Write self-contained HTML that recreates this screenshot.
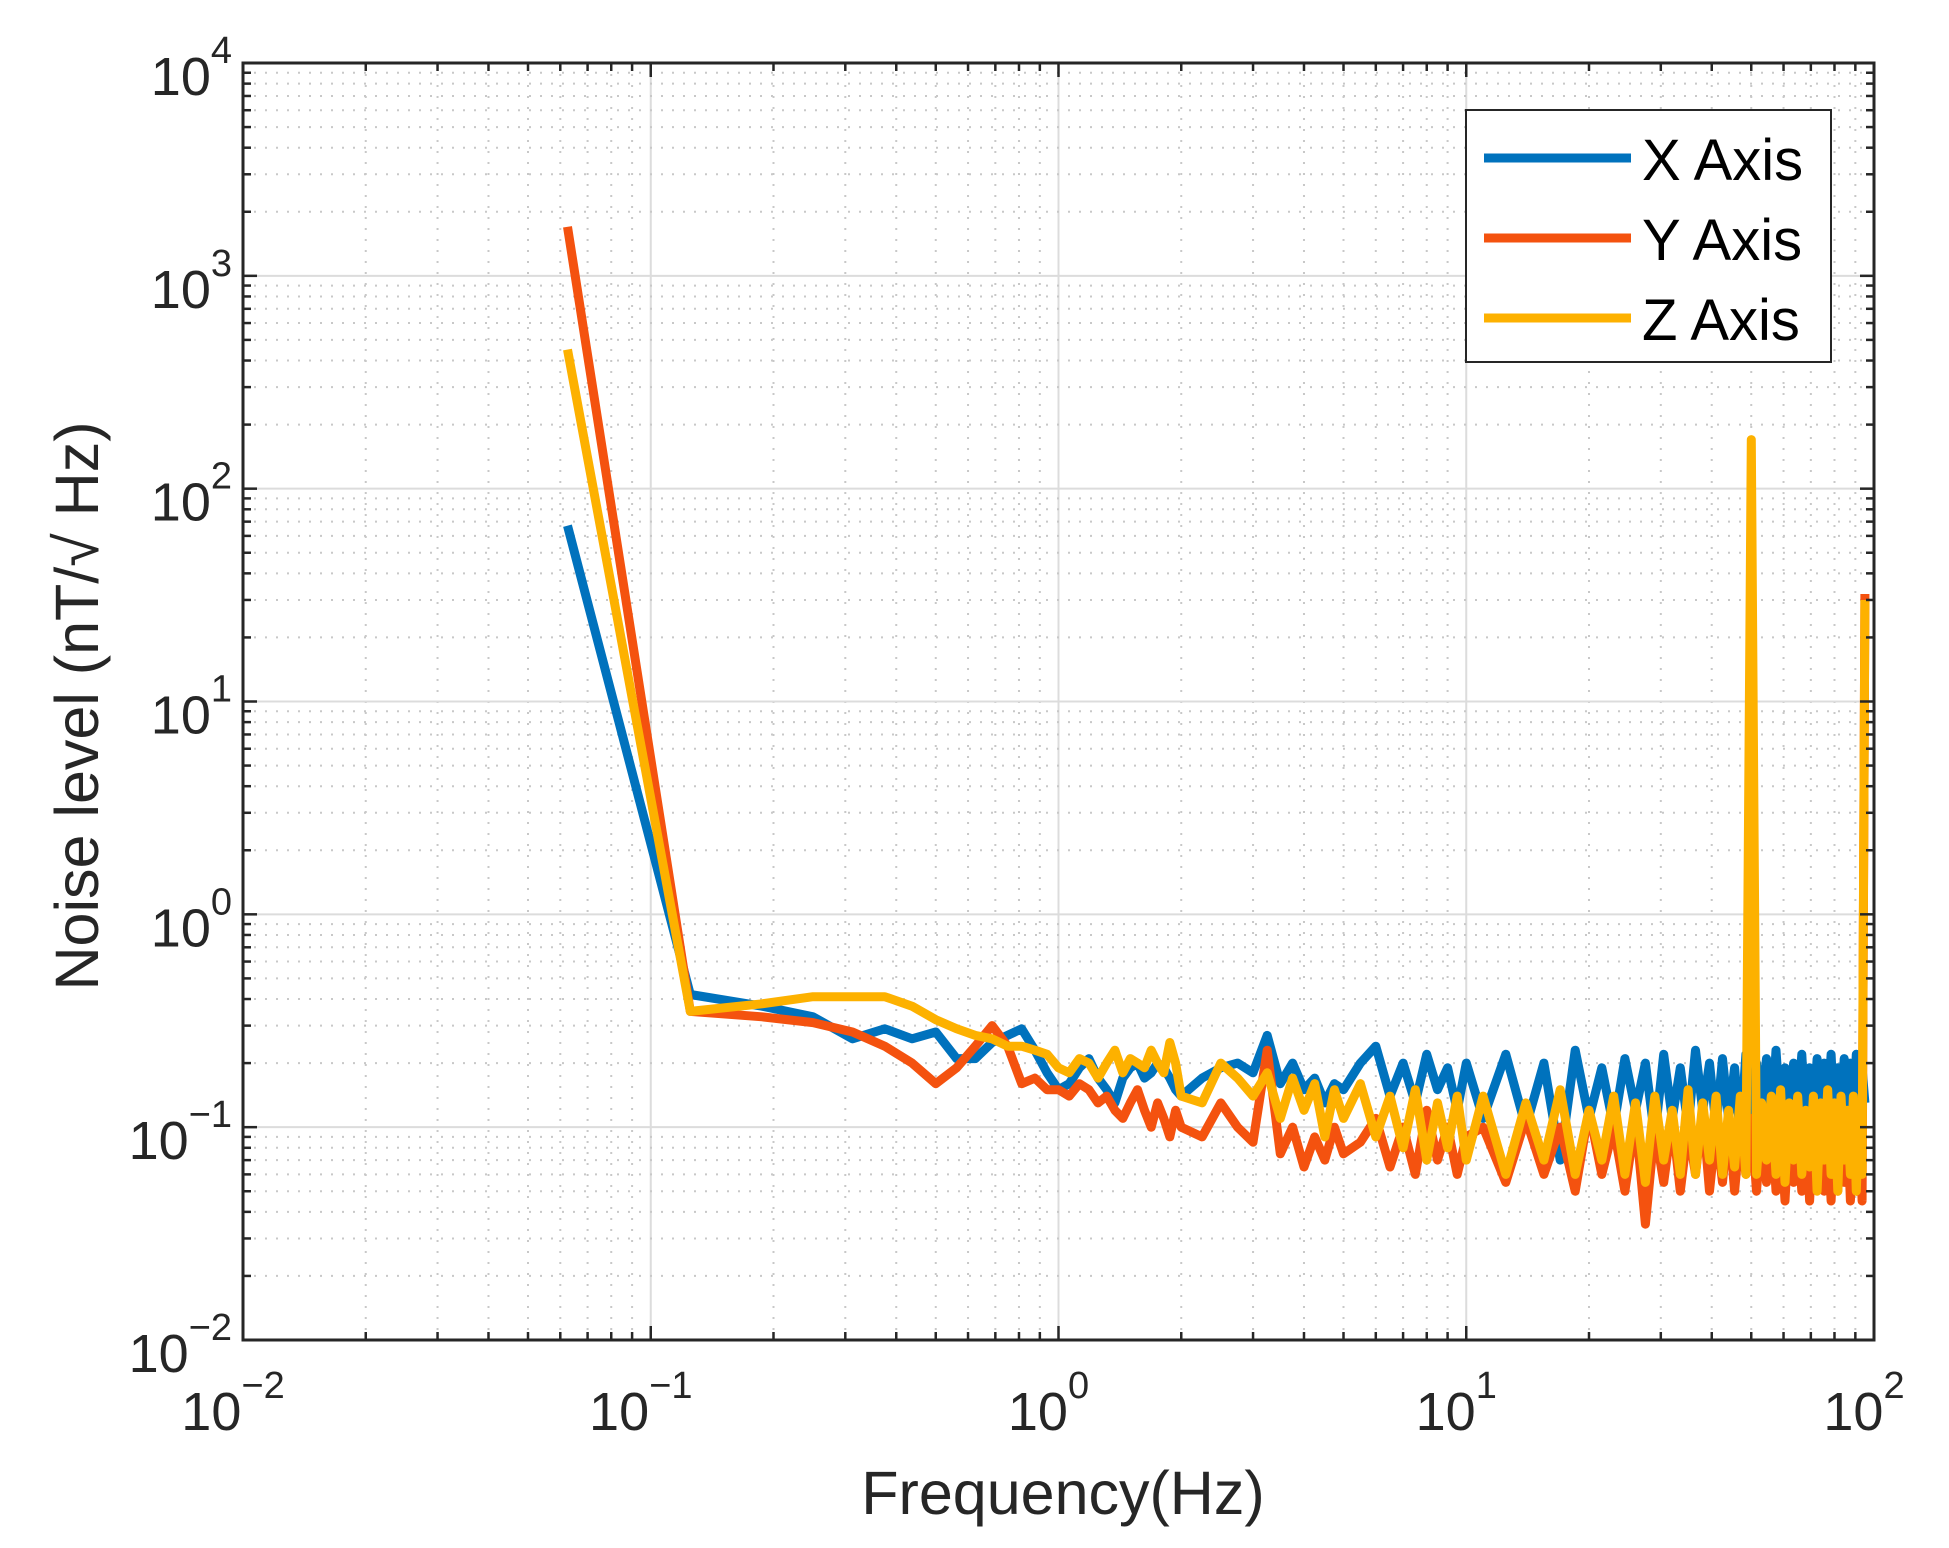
<!DOCTYPE html>
<html><head><meta charset="utf-8"><style>
html,body{margin:0;padding:0;background:#fff;}
svg{display:block;font-family:"Liberation Sans",Arial,sans-serif;}
</style></head><body>
<svg id="chart" width="1949" height="1548" viewBox="0 0 1949 1548" xmlns="http://www.w3.org/2000/svg">
<rect width="1949" height="1548" fill="#fff"/>
<g id="grid"></g>
<g id="series"></g>
<g id="axes"></g>
<text x="1063" y="1514" font-size="61" text-anchor="middle" fill="#262626">Frequency(Hz)</text>
<text transform="translate(98,706) rotate(-90)" font-size="61" text-anchor="middle" fill="#262626">Noise level (nT/√ Hz)</text>
<g>
<rect x="1466" y="110" width="365" height="252" fill="#fff" stroke="#262626" stroke-width="2"/>
<line x1="1484" y1="158" x2="1631" y2="158" stroke="#0072BD" stroke-width="9"/>
<text x="1642" y="180" font-size="58" fill="#000">X Axis</text>
<line x1="1484" y1="238" x2="1631" y2="238" stroke="#F4520F" stroke-width="9"/>
<text x="1642" y="260" font-size="58" fill="#000">Y Axis</text>
<line x1="1484" y1="318" x2="1631" y2="318" stroke="#FDB100" stroke-width="9"/>
<text x="1642" y="340" font-size="58" fill="#000">Z Axis</text>
</g>
</svg>
<script>
const freqs = [0.0625,0.125,0.1875,0.25,0.3125,0.375,0.4375,0.5,0.5625,0.625,0.6875,0.75,0.8125,0.875,0.9375,1.0,1.0625,1.125,1.1875,1.25,1.3125,1.375,1.4375,1.5,1.5625,1.625,1.6875,1.75,1.8125,1.875,1.9375,2.0,
2.25,2.5,2.75,3.0,3.25,3.5,3.75,4.0,4.25,4.5,4.75,5.0,
5.5,6,6.5,7,7.5,8,8.5,9,9.5,10,
11,12.5,14,15.5,17,18.5,20,21.5,23,24.5,26,27.5,29,30.5,32,33.5,35,36.5,38,39.5,41,42.5,44,45.5,47,48.5,50,51.5,53,54.5,56,57.5,59,60.5,62,63.5,65,66.5,68,69.5,71,72.5,74,75.5,77,78.5,80,81.5,83,84.5,86,87.5,89,90.5,92,93.5,95,96.5,98,99.5,100];
const xAxisValues = [67,0.42,0.37,0.33,0.26,0.29,0.26,0.28,0.21,0.21,0.25,0.27,0.29,0.23,0.18,0.15,0.16,0.19,0.21,0.17,0.15,0.13,0.17,0.19,0.2,0.17,0.18,0.2,0.19,0.17,0.15,0.14,
0.17,0.19,0.2,0.18,0.27,0.16,0.2,0.15,0.17,0.13,0.16,0.15,
0.2,0.24,0.14,0.2,0.13,0.22,0.15,0.19,0.12,0.2,
0.11,0.22,0.1,0.2,0.07,0.23,0.11,0.19,0.1,0.21,0.12,0.2,0.09,0.22,0.11,0.19,0.1,0.23,0.12,0.2,0.1,0.21,0.11,0.19,0.09,0.22,0.1,0.2,0.12,0.21,0.1,0.23,0.11,0.19,0.1,0.2,0.12,0.22,0.1,0.19,0.11,0.21,0.1,0.2,0.12,0.22,0.1,0.19,0.11,0.21,0.1,0.2,0.11,0.22,0.12,0.19,0.13];
const yAxisValues = [1700,0.35,0.33,0.31,0.28,0.24,0.2,0.16,0.19,0.24,0.30,0.24,0.16,0.17,0.15,0.15,0.14,0.16,0.15,0.13,0.14,0.12,0.11,0.13,0.15,0.12,0.1,0.13,0.11,0.09,0.12,0.1,
0.09,0.13,0.1,0.085,0.23,0.075,0.1,0.065,0.09,0.07,0.1,0.075,
0.085,0.11,0.065,0.1,0.06,0.12,0.07,0.1,0.06,0.09,
0.1,0.055,0.11,0.06,0.1,0.05,0.12,0.06,0.1,0.05,0.11,0.035,0.1,0.055,0.11,0.05,0.1,0.06,0.12,0.05,0.1,0.055,0.11,0.05,0.1,0.06,0.11,0.05,0.1,0.055,0.12,0.05,0.1,0.045,0.11,0.055,0.1,0.05,0.11,0.045,0.1,0.055,0.12,0.05,0.1,0.045,0.11,0.05,0.1,0.055,0.11,0.045,0.1,0.05,0.11,0.045,32];
const zAxisValues = [450,0.35,0.38,0.41,0.41,0.41,0.37,0.32,0.29,0.27,0.26,0.24,0.24,0.23,0.22,0.19,0.18,0.21,0.2,0.17,0.2,0.23,0.18,0.21,0.2,0.19,0.23,0.2,0.18,0.25,0.2,0.14,
0.13,0.2,0.17,0.14,0.18,0.11,0.17,0.12,0.16,0.09,0.15,0.11,
0.16,0.09,0.14,0.08,0.15,0.07,0.13,0.08,0.14,0.07,
0.14,0.06,0.13,0.07,0.15,0.06,0.12,0.07,0.14,0.06,0.13,0.055,0.14,0.07,0.12,0.06,0.15,0.06,0.13,0.07,0.14,0.06,0.12,0.065,0.14,0.06,170,0.06,0.13,0.07,0.14,0.06,0.15,0.055,0.13,0.07,0.14,0.06,0.12,0.065,0.14,0.05,0.13,0.07,0.15,0.06,0.13,0.05,0.14,0.07,0.12,0.06,0.14,0.05,0.13,0.06,30];
const xTickExps = [-2,-1,0,1,2];
const yTickExps = [-2,-1,0,1,2,3,4];

const L=243,R=1874,T=63,B=1340;
const xMin=-2,xMax=2,yMin=-2,yMax=4;
function xs(f){return L+(Math.log10(f)-xMin)/(xMax-xMin)*(R-L);}
function ys(v){return B-(Math.log10(v)-yMin)/(yMax-yMin)*(B-T);}
const NS="http://www.w3.org/2000/svg";
function mk(tag,attrs,parent){const e=document.createElementNS(NS,tag);for(const k in attrs)e.setAttribute(k,attrs[k]);parent.appendChild(e);return e;}
const grid=document.getElementById('grid'),axes=document.getElementById('axes'),series=document.getElementById('series');

for(let e=xMin;e<xMax;e++){for(let m=1;m<10;m++){const x=xs(m*Math.pow(10,e));
 if(m===1){if(e===xMin)continue;const l=mk('line',{x1:x,y1:T,x2:x,y2:B,stroke:'#dcdcdc','stroke-width':2},grid);}
 else{const l=mk('line',{x1:x,y1:T,x2:x,y2:B,stroke:'#c8c8c8','stroke-width':2,'stroke-dasharray':'2 9'},grid);}
}}
for(let e=yMin;e<yMax;e++){for(let m=1;m<10;m++){const y=ys(m*Math.pow(10,e));
 if(m===1){if(e===yMin)continue;const l=mk('line',{x1:L,y1:y,x2:R,y2:y,stroke:'#dcdcdc','stroke-width':2},grid);}
 else{const l=mk('line',{x1:L,y1:y,x2:R,y2:y,stroke:'#c8c8c8','stroke-width':2,'stroke-dasharray':'2 9'},grid);}
}}

function drawSeries(vals,color,name){
 const pts=freqs.map((f,i)=>xs(f).toFixed(1)+','+ys(vals[i]).toFixed(1)).join(' ');
 const p=mk('polyline',{points:pts,fill:'none',stroke:color,'stroke-width':9,'stroke-linejoin':'round'},series);
 
 
}
drawSeries(xAxisValues,'#0072BD','x-axis-series');
drawSeries(yAxisValues,'#F4520F','y-axis-series');
drawSeries(zAxisValues,'#FDB100','z-axis-series');

const box=mk('rect',{x:L,y:T,width:R-L,height:B-T,fill:'none',stroke:'#262626','stroke-width':3},axes);


for(let e=xMin;e<=xMax;e++){for(let m=1;m<10;m++){if(e===xMax&&m>1)break;const x=xs(m*Math.pow(10,e));const len=m===1?14:8;
 const t1=mk('line',{x1:x,y1:B,x2:x,y2:B-len,stroke:'#262626','stroke-width':2.5},axes);
 const t2=mk('line',{x1:x,y1:T,x2:x,y2:T+len,stroke:'#262626','stroke-width':2.5},axes);}}
for(let e=yMin;e<=yMax;e++){for(let m=1;m<10;m++){if(e===yMax&&m>1)break;const y=ys(m*Math.pow(10,e));const len=m===1?14:8;
 const t1=mk('line',{x1:L,y1:y,x2:L+len,y2:y,stroke:'#262626','stroke-width':2.5},axes);
 const t2=mk('line',{x1:R,y1:y,x2:R-len,y2:y,stroke:'#262626','stroke-width':2.5},axes);}}

xTickExps.forEach(e=>{const x=xs(Math.pow(10,e));
 const t=mk('text',{x:x-10,y:1430,'font-size':54,'text-anchor':'middle',fill:'#262626'},axes);
 
 
 t.textContent='10';
 const s=mk('tspan',{dy:-32,'font-size':38},t);s.textContent=e<0?'\u2212'+(-e):String(e);
});
yTickExps.forEach(e=>{const y=ys(Math.pow(10,e));
 const t=mk('text',{x:232,y:y+32,'font-size':54,'text-anchor':'end',fill:'#262626'},axes);
 
 
 t.textContent='10';
 const s=mk('tspan',{dy:-32,'font-size':38},t);s.textContent=e<0?'\u2212'+(-e):String(e);
});
</script>
</body></html>
